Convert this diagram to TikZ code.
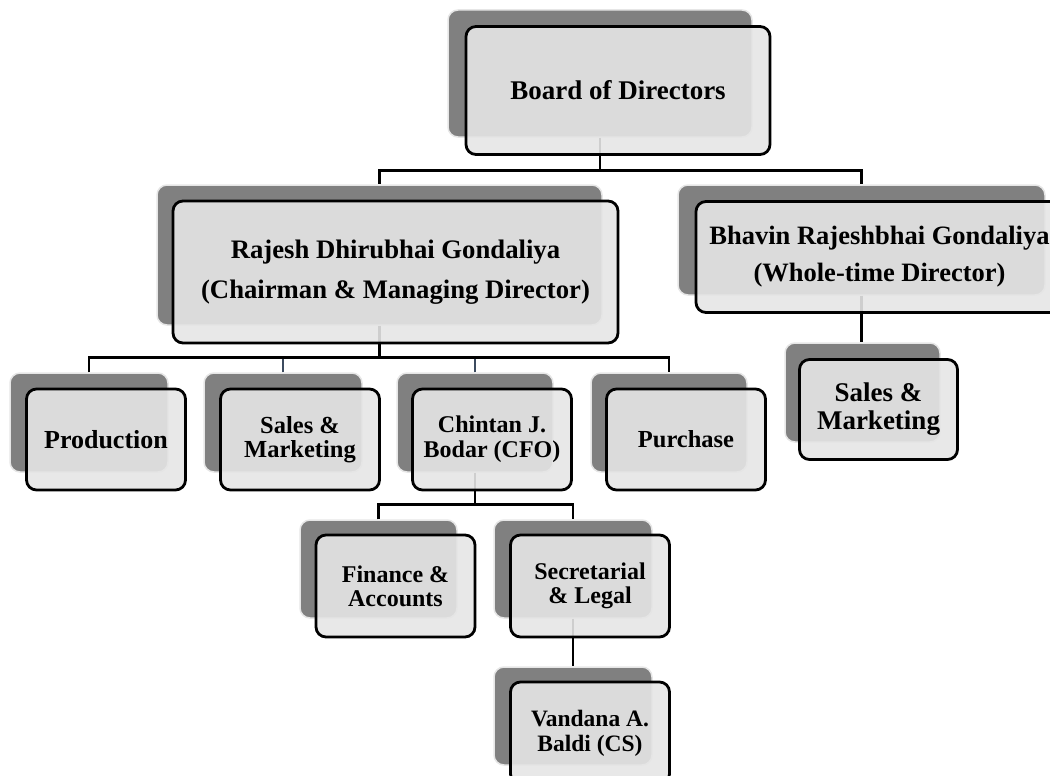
\documentclass[tikz,border=0pt]{standalone}
\usepackage{fontspec}
\setmainfont{Liberation Serif}
\definecolor{shade}{RGB}{128,128,128}
\definecolor{glow}{RGB}{230,230,230}
\definecolor{frontfill}{RGB}{229,229,229}
\definecolor{slate}{RGB}{60,75,95}
\begin{document}
\begin{tikzpicture}[x=1pt,y=-1pt,
  shadowbox/.style={rectangle, rounded corners=10pt, fill=shade, draw=glow, line width=1.5pt, inner sep=0pt},
  frontbox/.style={rectangle, rounded corners=10pt, fill=frontfill, fill opacity=0.9, text opacity=1, draw=black, draw opacity=1, line width=2.8pt, inner sep=0pt, align=center},
  conn/.style={draw=black, line width=2.6pt},
  connb/.style={draw=slate, line width=2.6pt}]
\useasboundingbox (0,0) rectangle (1050,776);
\clip (0,0) rectangle (1050,776);
% shadow shapes
\node[shadowbox, minimum width=304pt, minimum height=127pt] (board) at (600,73.5) {};
\node[shadowbox, minimum width=445pt, minimum height=140pt] (rajesh) at (379.5,255) {};
\node[shadowbox, minimum width=367pt, minimum height=110pt] (bhavin) at (861.5,240) {};
\node[shadowbox, minimum width=155pt, minimum height=99pt] (salesb) at (862.5,392.5) {};
\node[shadowbox, minimum width=158pt, minimum height=99pt] (production) at (89,422.5) {};
\node[shadowbox, minimum width=158pt, minimum height=99pt] (salesa) at (283,422.5) {};
\node[shadowbox, minimum width=156pt, minimum height=99pt] (chintan) at (475,422.5) {};
\node[shadowbox, minimum width=156pt, minimum height=99pt] (purchase) at (669,422.5) {};
\node[shadowbox, minimum width=157pt, minimum height=98pt] (finance) at (378.5,569) {};
\node[shadowbox, minimum width=158pt, minimum height=98pt] (secretarial) at (573,569) {};
\node[shadowbox, minimum width=158pt, minimum height=98pt] (vandana) at (573,716) {};
% connectors
\draw[conn] (board.south) -- ++(0,33) coordinate (j1) -| (rajesh.north);
\draw[conn] (j1) -| (bhavin.north);
\draw[conn] (rajesh.south) -- ++(0,33) coordinate (j2);
\draw[conn] (production.north) -- ++(0,-15) -| (purchase.north);
\draw[connb] (salesa.north) -- (salesa.north |- j2);
\draw[connb] (chintan.north) -- (chintan.north |- j2);
\draw[conn] (bhavin.south) -- (bhavin.south |- salesb.north);
\draw[conn] (chintan.south) -- ++(0,33) coordinate (j3);
\draw[conn] (finance.north) -- ++(0,-15) -| (secretarial.north);
\draw[conn] (secretarial.south) -- (vandana.north);
% front boxes
\node[frontbox, minimum width=304pt, minimum height=128pt, font=\fontsize{27}{40}\selectfont\bfseries] (board-f) at ([shift={(18,17)}]board.center) {Board of Directors};
\node[frontbox, minimum width=445pt, minimum height=142pt, font=\fontsize{26.7}{40}\selectfont\bfseries] (rajesh-f) at ([shift={(16,17)}]rajesh.center) {Rajesh Dhirubhai Gondaliya\\(Chairman \& Managing Director)};
\node[frontbox, minimum width=367pt, minimum height=111pt, font=\fontsize{26.5}{37}\selectfont\bfseries] (bhavin-f) at ([shift={(18,17)}]bhavin.center) {Bhavin Rajeshbhai Gondaliya\\(Whole-time Director)};
\node[frontbox, minimum width=158pt, minimum height=100pt, font=\fontsize{27}{28}\selectfont\bfseries] (salesb-f) at ([shift={(16,17)}]salesb.center) {Sales \&\\Marketing};
\node[frontbox, minimum width=159pt, minimum height=101pt, font=\fontsize{26}{26}\selectfont\bfseries] (production-f) at ([shift={(17,17)}]production.center) {Production};
\node[frontbox, minimum width=159pt, minimum height=101pt, font=\fontsize{24.5}{24.5}\selectfont\bfseries] (salesa-f) at ([shift={(17,17)}]salesa.center) {Sales \&\\Marketing};
\node[frontbox, minimum width=159pt, minimum height=101pt, font=\fontsize{24}{25}\selectfont\bfseries] (chintan-f) at ([shift={(17,17)}]chintan.center) {Chintan J.\\Bodar (CFO)};
\node[frontbox, minimum width=159pt, minimum height=101pt, font=\fontsize{24.5}{25}\selectfont\bfseries] (purchase-f) at ([shift={(17,17)}]purchase.center) {Purchase};
\node[frontbox, minimum width=159pt, minimum height=102pt, font=\fontsize{24}{24}\selectfont\bfseries] (finance-f) at ([shift={(17,17)}]finance.center) {Finance \&\\Accounts};
\node[frontbox, minimum width=159pt, minimum height=102pt, font=\fontsize{24}{24}\selectfont\bfseries] (secretarial-f) at ([shift={(17,17)}]secretarial.center) {Secretarial\\\& Legal};
\node[frontbox, minimum width=159pt, minimum height=102pt, font=\fontsize{23.5}{25}\selectfont\bfseries] (vandana-f) at ([shift={(17,17)}]vandana.center) {Vandana A.\\Baldi (CS)};
\end{tikzpicture}
\end{document}
